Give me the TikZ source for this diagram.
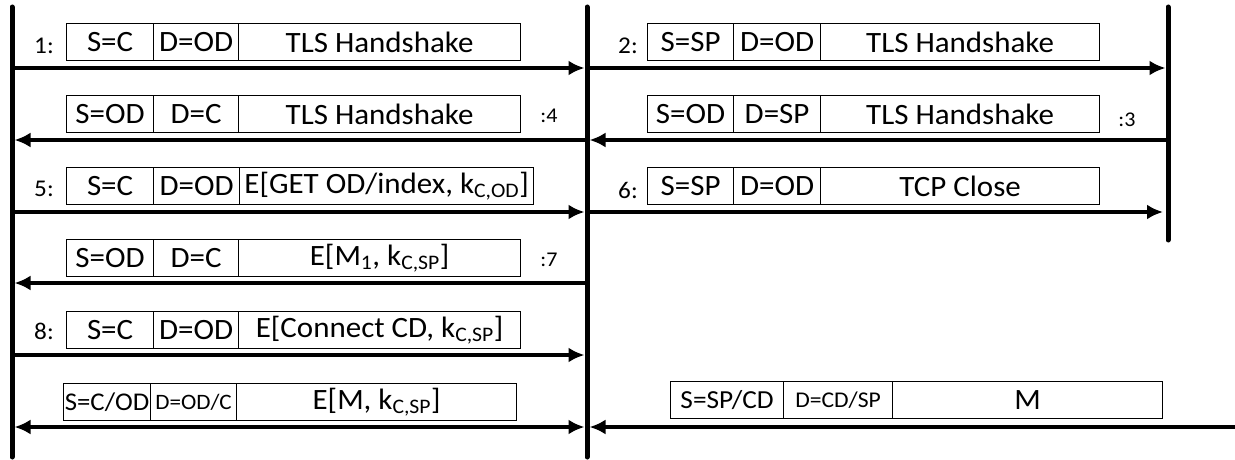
\documentclass[tikz,border=0pt]{standalone}
\usepackage{fontspec}
\setmainfont{Carlito}[FakeStretch=1.05]
\usetikzlibrary{arrows.meta}
\tikzset{
  life/.style={line width=5pt, line cap=round},
  msg/.style={line width=4pt, -{Latex[length=16pt,width=15pt]}, shorten >=2.5pt},
  dmsg/.style={line width=4pt, {Latex[length=16pt,width=15pt]}-{Latex[length=16pt,width=15pt]}, shorten >=2.5pt, shorten <=2.5pt},
  cell/.style={draw, line width=1.2pt, inner sep=0pt, anchor=north west, minimum height=37pt, font=\fontsize{29.5}{31}\selectfont},
  num/.style={font=\fontsize{24}{26}\selectfont, inner sep=0pt},
  rnum/.style={font=\fontsize{21}{23}\selectfont, inner sep=0pt},
}
\newcommand{\pkt}[9]{%
  \node[cell, minimum width=#4pt-#3pt] (#1a) at (#3,#2) {#7};
  \node[cell, minimum width=#5pt-#4pt] (#1b) at (#4,#2) {#8};
  \node[cell, minimum width=#6pt-#5pt] (#1c) at (#5,#2) {#9};
}
\begin{document}
\begin{tikzpicture}[x=1pt,y=-1pt]
\useasboundingbox (0,0) rectangle (1235,460);
% lifelines
\coordinate (Ltop) at (12,7);   \coordinate (Lbot) at (12,457);
\coordinate (Mtop) at (587,7);  \coordinate (Mbot) at (587,457);
\coordinate (Rtop) at (1168,7); \coordinate (Rbot) at (1168,240);
\draw[life] (Ltop) -- (Lbot);
\draw[life] (Mtop) -- (Mbot);
\draw[life] (Rtop) -- (Rbot);
% row coordinates
\foreach \i/\y in {1/68,2/140,3/212,4/283,5/355,6/427}{
  \coordinate (L\i) at (12,\y);
  \coordinate (M\i) at (587,\y);
  \coordinate (R\i) at (1168,\y);
}
\coordinate (E6) at (1235,427);
% packets
\pkt{p1}{23}{66}{153}{238}{520}{S=C}{D=OD}{TLS Handshake}
\pkt{p2}{23}{647}{733}{820}{1099}{S=SP}{D=OD}{TLS Handshake}
\pkt{p4}{95}{66}{153}{238}{520}{S=OD}{D=C}{TLS Handshake}
\pkt{p3}{95}{647}{733}{820}{1099}{S=OD}{D=SP}{TLS Handshake}
\pkt{p5}{167}{66}{153}{239}{533}{S=C}{D=OD}{E[GET OD/index, k\textsubscript{C,OD}]}
\pkt{p6}{167}{647}{733}{820}{1099}{S=SP}{D=OD}{TCP Close}
\pkt{p7}{239}{66}{153}{238}{520}{S=OD}{D=C}{E[M\textsubscript{1}, k\textsubscript{C,SP}]}
\pkt{p8}{311}{66}{153}{238}{520}{S=C}{D=OD}{E[Connect CD, k\textsubscript{C,SP}]}
\pkt{p9}{383}{63}{150}{236}{516}{\fontsize{25.5}{27}\selectfont S=C/OD}{\fontsize{22}{24}\selectfont D=OD/C}{E[M, k\textsubscript{C,SP}]}
\pkt{q9}{381}{670}{783}{892}{1162}{\fontsize{26}{28}\selectfont S=SP/CD}{\fontsize{22.5}{24}\selectfont D=CD/SP}{M}
% labels
\node[num] (n1) at (44,46) {1:};
\node[num] (n2) at (628,46) {2:};
\node[rnum] (n4) at (549,116) {:4};
\node[rnum] (n3) at (1127,120) {:3};
\node[num] (n5) at (44,189) {5:};
\node[num] (n6) at (628,190) {6:};
\node[rnum] (n7) at (549,260) {:7};
\node[num] (n8) at (44,331) {8:};
% messages
\draw[msg] (L1) -- (M1);
\draw[msg] (M1) -- (R1);
\draw[msg] (M2) -- (L2);
\draw[msg] (R2) -- (M2);
\draw[msg] (L3) -- (M3);
\draw[msg, shorten >=5pt] (M3) -- (R3);
\draw[msg] (M4) -- (L4);
\draw[msg] (L5) -- (M5);
\draw[dmsg] (L6) -- (M6);
\draw[msg] (E6) -- (M6);
\end{tikzpicture}
\end{document}
